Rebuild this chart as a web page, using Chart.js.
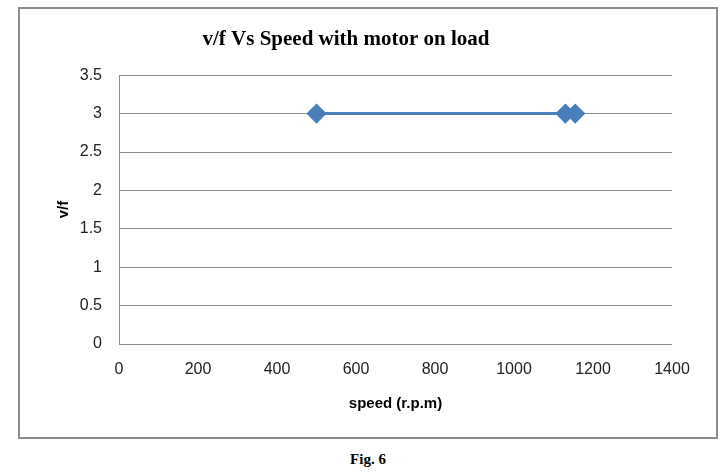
<!DOCTYPE html>
<html lang="en">
<head>
  <meta charset="UTF-8">
  <title>v/f Vs Speed with motor on load</title>
  <script src="https://cdn.jsdelivr.net/npm/chart.js"></script>
  <style>
    body { margin: 0; background: #fff; width: 724px; height: 472px; position: relative; }
    .chart-box {
      position: absolute; left: 18px; top: 7px;
      width: 696px; height: 428px;
      border: 2px solid #8c8c8c;
    }
    .caption {
      position: absolute; left: 0; width: 736px; top: 451px;
      text-align: center;
      font: bold 15px "Liberation Serif", serif;
    }
  </style>
</head>
<body>
  <div class="chart-box">
    <canvas id="vfChart" width="696" height="428"></canvas>
  </div>
  <div class="caption">Fig. 6</div>

  <script>
    // data
    const speed = [500, 1130, 1155];
    const vf = [3, 3, 3];
    const speedTicks = [0, 200, 400, 600, 800, 1000, 1200, 1400];
    const vfTicks = [0, 0.5, 1, 1.5, 2, 2.5, 3, 3.5];

    const tickFont = { family: 'Liberation Sans', size: 16 };
    const axisFont = { family: 'Liberation Sans', size: 15, weight: 'bold' };

    new Chart(document.querySelector('#vfChart'), {
      type: 'scatter',
      data: {
        datasets: [{
          data: speed.map((s, i) => ({ x: s, y: vf[i] })),
          showLine: true,
          borderColor: '#4a7ebb',
          backgroundColor: '#4a7ebb',
          borderWidth: 3,
          pointStyle: 'rectRot',
          pointRadius: 8,
          pointHoverRadius: 8,
        }],
      },
      options: {
        responsive: false,
        animation: false,
        layout: { padding: { right: 44, top: 0, bottom: 0, left: 0 } },
        plugins: {
          legend: { display: false },
          tooltip: { enabled: false },
          title: {
            display: true,
            text: 'v/f Vs Speed with motor on load',
            color: '#000',
            font: { family: 'Liberation Serif', size: 21, weight: 'bold' },
            padding: { top: 18, bottom: 23 },
          },
        },
        scales: {
          x: {
            type: 'linear',
            min: speedTicks[0],
            max: speedTicks[speedTicks.length - 1],
            afterFit: scale => { scale.height = 93; },
            afterBuildTicks: scale => { scale.ticks = speedTicks.map(v => ({ value: v })); },
            ticks: { color: '#222', font: tickFont, padding: 16, callback: v => String(v), maxRotation: 0 },
            grid: { display: false, drawTicks: false },
            border: { display: false },
            title: { display: true, text: 'speed (r.p.m)', color: '#000', font: axisFont, padding: { top: 0, bottom: 24 } },
          },
          y: {
            min: vfTicks[0],
            max: vfTicks[vfTicks.length - 1],
            afterFit: scale => { scale.width = 99; },
            afterBuildTicks: scale => { scale.ticks = vfTicks.map(v => ({ value: v })); },
            ticks: { color: '#222', font: tickFont, padding: 17, callback: v => String(v) },
            grid: { color: '#8c8c8c', lineWidth: 1, drawTicks: false },
            border: { display: true, color: '#8c8c8c', width: 1 },
            title: { display: true, text: 'v/f', color: '#000', font: axisFont, padding: { top: 35, bottom: 0 } },
          },
        },
      },
    });
  </script>
</body>
</html>
